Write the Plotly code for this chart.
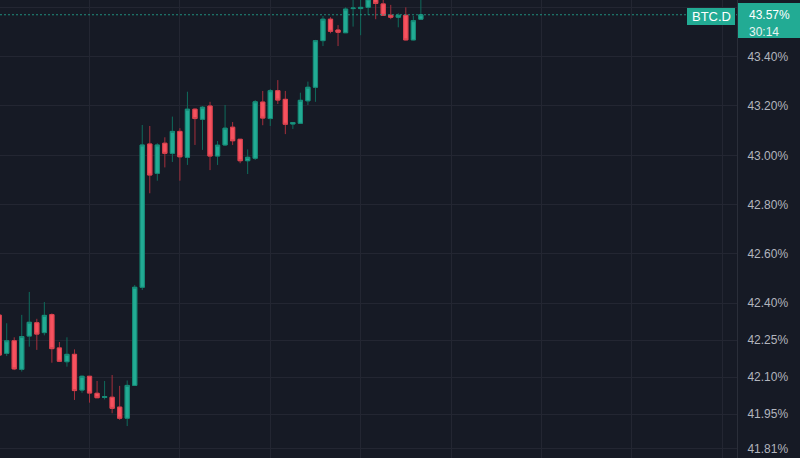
import plotly.graph_objects as go

# ---- data (BTC dominance, %) ----
candle_index = list(range(57))
open_ = [42.352, 42.197, 42.248, 42.132, 42.267, 42.321, 42.281, 42.354, 42.219, 42.163,
         42.193, 42.048, 42.104, 42.035, 42.018, 42.019, 41.979, 41.934, 42.067, 42.465,
         43.046, 42.927, 43.049, 43.008, 43.097, 42.992, 43.187, 43.146, 43.200, 42.997,
         43.042, 43.114, 43.065, 42.978, 42.988, 43.216, 43.149, 43.262, 43.227, 43.127,
         43.130, 43.221, 43.276, 43.465, 43.552, 43.508, 43.497, 43.595, 43.595, 43.600,
         43.638, 43.614, 43.568, 43.560, 43.568, 43.468, 43.552]
high = [42.361, 42.319, 42.262, 42.353, 42.446, 42.337, 42.405, 42.359, 42.243, 42.262,
        42.213, 42.107, 42.105, 42.085, 42.085, 42.109, 42.065, 42.087, 42.474, 43.123,
        43.119, 43.049, 43.073, 43.157, 43.110, 43.258, 43.190, 43.200, 43.217, 43.058,
        43.204, 43.135, 43.066, 43.024, 43.224, 43.261, 43.269, 43.305, 43.261, 43.135,
        43.254, 43.299, 43.468, 43.565, 43.560, 43.528, 43.600, 43.642, 43.634, 43.650,
        43.654, 43.638, 43.610, 43.576, 43.600, 43.565, 43.650]
low = [42.182, 42.186, 42.129, 42.123, 42.224, 42.211, 42.270, 42.159, 42.162, 42.143,
       42.008, 42.037, 41.997, 42.016, 42.010, 41.954, 41.927, 41.902, 42.065, 42.454,
       42.846, 42.897, 42.951, 42.973, 42.897, 42.961, 43.042, 43.022, 42.940, 42.961,
       43.038, 43.042, 42.968, 42.924, 42.981, 43.122, 43.119, 43.208, 43.086, 43.107,
       43.127, 43.204, 43.217, 43.443, 43.495, 43.443, 43.496, 43.522, 43.487, 43.569,
       43.552, 43.565, 43.552, 43.519, 43.466, 43.466, 43.551]
close = [42.190, 42.248, 42.134, 42.265, 42.323, 42.275, 42.351, 42.216, 42.165, 42.193,
         42.046, 42.104, 42.036, 42.017, 42.022, 41.974, 41.934, 42.067, 42.465, 43.042,
         42.920, 43.042, 43.008, 43.097, 42.994, 43.187, 43.149, 43.195, 42.997, 43.041,
         43.110, 43.059, 42.978, 42.992, 43.217, 43.151, 43.262, 43.224, 43.126, 43.133,
         43.223, 43.276, 43.465, 43.552, 43.503, 43.499, 43.593, 43.597, 43.600, 43.634,
         43.616, 43.568, 43.560, 43.568, 43.468, 43.546, 43.570]

y_tick_values = [41.81, 41.95, 42.10, 42.25, 42.40, 42.60, 42.80, 43.00, 43.20, 43.40, 43.60]
y_tick_labels = ["41.81%", "41.95%", "42.10%", "42.25%", "42.40%", "42.60%",
                 "42.80%", "43.00%", "43.20%", "43.40%", "43.60%"]
symbol = "BTC.D"
countdown = "30:14"

# ---- styling ----
BG = "#161A25"
GRID = "#232632"
UP = "#22AB94"
DOWN = "#F7525F"
UP_WICK = "#0F6B5C"
DOWN_WICK = "#A52F3C"
UP_EDGE = "#178A77"
DOWN_EDGE = "#D8434F"

y_min, y_max = 41.7726, 43.6298
px_per_unit = 458 / (y_max - y_min)

body_hi = [max(o, c) for o, c in zip(open_, close)]
body_lo = [min(o, c) for o, c in zip(open_, close)]

fig = go.Figure()
# wicks
fig.add_trace(go.Candlestick(
    x=candle_index, open=open_, high=high, low=low, close=close,
    increasing=dict(line=dict(color=UP_WICK, width=1), fillcolor=UP),
    decreasing=dict(line=dict(color=DOWN_WICK, width=1), fillcolor=DOWN),
    whiskerwidth=0, showlegend=False, hoverinfo="skip"))
# bodies
fig.add_trace(go.Candlestick(
    x=candle_index, open=open_, high=body_hi, low=body_lo, close=close,
    increasing=dict(line=dict(color=UP_EDGE, width=1), fillcolor=UP),
    decreasing=dict(line=dict(color=DOWN_EDGE, width=1), fillcolor=DOWN),
    whiskerwidth=0, showlegend=False))

last = close[-1]

# dotted last-price line
fig.add_shape(type="line", xref="paper", yref="y", x0=0, x1=1, y0=last, y1=last,
              line=dict(color="rgba(34,171,148,0.8)", width=1, dash="2px,2px"), layer="above")

def py(pix_offset):
    """value offset for a pixel offset (positive = upwards)"""
    return pix_offset / px_per_unit

plot_w = 737.0
def xp(pix):
    return pix / plot_w

# symbol label box + text
fig.add_annotation(xref="paper", yref="y", x=xp(687.3), y=last + py(7.0),
                   xanchor="left", yanchor="top", text=" ", showarrow=False,
                   width=48, height=17, bgcolor=UP, borderpad=0, borderwidth=0)
fig.add_annotation(xref="paper", yref="y", x=xp(711.4), y=last - py(1.3), text=symbol,
                   showarrow=False, font=dict(family="Liberation Sans", size=13, color="#FFFFFF"),
                   xanchor="center", yanchor="middle")
# price label box + texts
fig.add_annotation(xref="paper", yref="y", x=xp(737.5), y=last + py(11.3),
                   xanchor="left", yanchor="top", text=" ", showarrow=False,
                   width=63, height=35, bgcolor=UP, borderpad=0, borderwidth=0)
fig.add_annotation(xref="paper", yref="y", x=xp(747), y=last, text=f"{last:.2f}%",
                   showarrow=False, font=dict(family="Liberation Sans", size=12, color="#FFFFFF"),
                   xanchor="left", yanchor="middle")
fig.add_annotation(xref="paper", yref="y", x=xp(747), y=last - py(17.0), text=countdown,
                   showarrow=False, font=dict(family="Liberation Sans", size=12, color="#E6F4F1"),
                   xanchor="left", yanchor="middle")

fig.update_layout(
    width=800, height=458,
    margin=dict(l=0, r=63, t=0, b=0),
    paper_bgcolor=BG, plot_bgcolor=BG,
    boxgap=0.2,
    showlegend=False,
    xaxis=dict(range=[0.110, 97.98], showgrid=True, gridcolor=GRID, gridwidth=1,
               tick0=0, dtick=12, showticklabels=False, ticks="", zeroline=False,
               showline=False, rangeslider=dict(visible=False), fixedrange=True),
    yaxis=dict(range=[y_min, y_max], side="right", tickvals=y_tick_values, ticktext=y_tick_labels,
               showgrid=True, gridcolor=GRID, gridwidth=1, zeroline=False,
               showline=True, linecolor="#2A2E39", linewidth=1, ticks="",
               ticklabelstandoff=7,
               tickfont=dict(family="Liberation Sans", size=12, color="#B2B5BE"),
               fixedrange=True),
)

fig.write_html(
    "out.html",
    config={"displayModeBar": False},
    post_script="document.body.style.margin='0';document.body.style.padding='0';"
                "document.body.style.background='" + BG + "';",
)
